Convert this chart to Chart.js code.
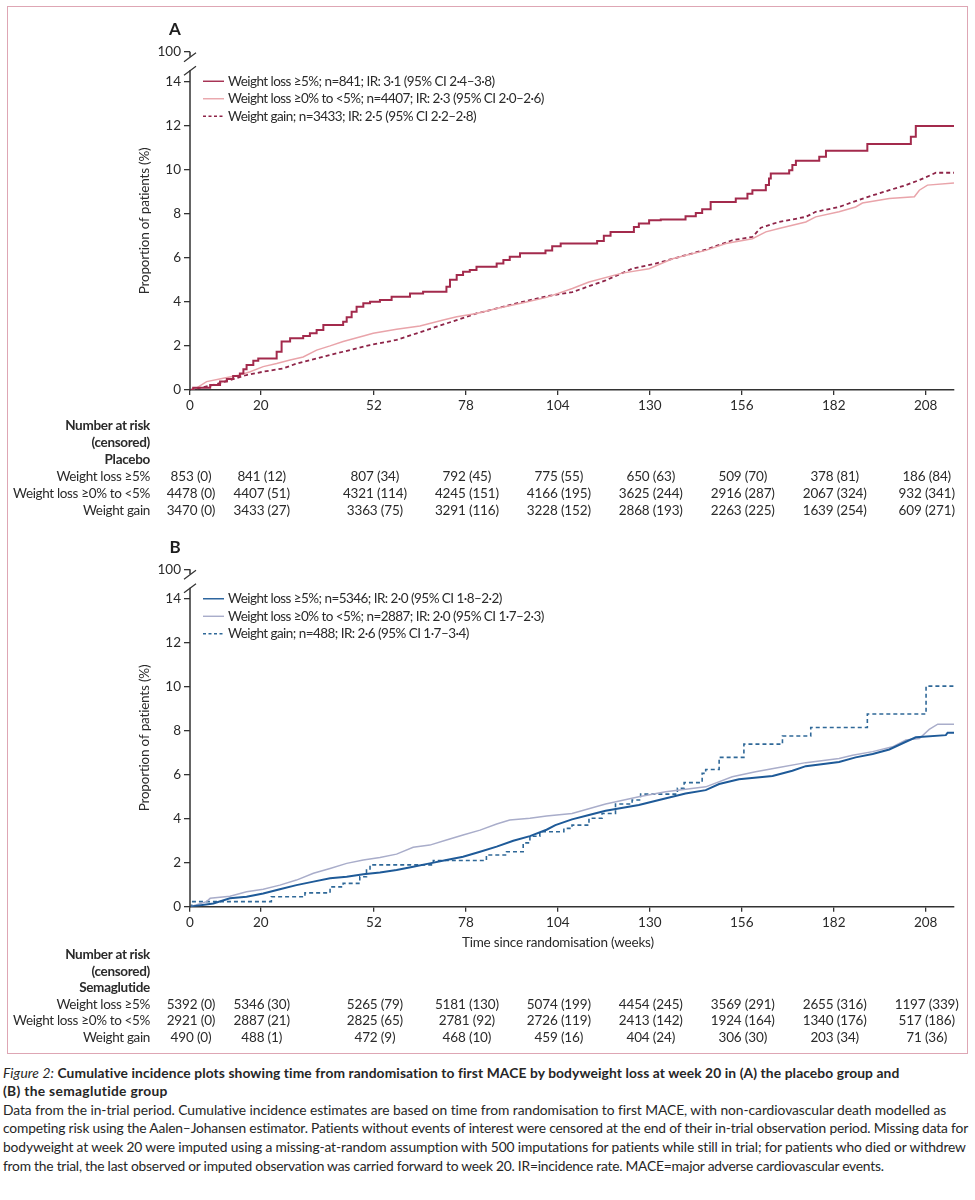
<!DOCTYPE html>
<html><head><meta charset="utf-8">
<script src="https://cdn.jsdelivr.net/npm/chart.js@4.4.1/dist/chart.umd.min.js"></script>
<style>
html,body{margin:0;padding:0;background:#fff;}
#wrap{position:relative;width:975px;height:1200px;overflow:hidden;background:#fff;}
#box{position:absolute;left:7px;top:6px;width:961px;height:1048px;border:1.5px solid #dea6b4;box-sizing:border-box;}
#cA{position:absolute;left:0;top:0;}
#cB{position:absolute;left:0;top:520px;}
#cap{position:absolute;left:3px;top:1063.7px;font-family:Lato,"Open Sans",sans-serif;font-size:13.8px;line-height:18.6px;color:#262626;}
#cap div{white-space:nowrap;}
#cap span{display:inline-block;white-space:nowrap;}
#cap .h{font-weight:bold;}
#cap .h i{font-weight:normal;}
</style></head>
<body>
<div id="wrap">
<div id="box"></div>
<canvas id="cA" width="975" height="520"></canvas>
<canvas id="cB" width="975" height="533"></canvas>
<div id="cap">
<div class="h"><span><i>Figure 2:</i> Cumulative incidence plots showing time from randomisation to first MACE by bodyweight loss at week 20 in (A) the placebo group and</span></div>
<div class="h"><span>(B) the semaglutide group</span></div>
<div><span>Data from the in-trial period. Cumulative incidence estimates are based on time from randomisation to first MACE, with non-cardiovascular death modelled as</span></div>
<div><span>competing risk using the Aalen–Johansen estimator. Patients without events of interest were censored at the end of their in-trial observation period. Missing data for</span></div>
<div><span>bodyweight at week 20 were imputed using a missing-at-random assumption with 500 imputations for patients while still in trial; for patients who died or withdrew</span></div>
<div><span>from the trial, the last observed or imputed observation was carried forward to week 20. IR=incidence rate. MACE=major adverse cardiovascular events.</span></div>
</div>
</div>
<script>
// ---------- axes ----------
const weekTicks = [0, 20, 52, 78, 104, 130, 156, 182, 208];
const weekMax = 216;
const pctTicks = [0, 2, 4, 6, 8, 10, 12, 14];
const pctBreak = 15.34;
const pctBreakLabel = '100';

// ---------- panel A: placebo ----------
const placeboLoss5Weeks = [0,0.9,5.7,8.5,10.4,12.2,14.1,15.1,16.0,17.9,19.3,24.5,25.9,28.3,32.0,33.9,35.8,37.7,43.3,44.3,45.7,47.1,49.0,50.9,53.7,57.0,62.2,65.9,72.5,73.5,75.4,77.2,79.1,81.0,86.7,88.6,90.4,93.3,100.5,102.4,104.8,115.1,117.0,118.9,125.5,126.9,129.8,133.1,140.1,143.0,144.8,147.2,154.3,157.6,159.0,162.8,163.7,164.2,169.4,170.3,171.3,177.9,179.8,191.5,203.8,205.2,216];
const placeboLoss5Pct   = [0,0.1,0.23,0.38,0.5,0.63,0.75,0.94,1.13,1.33,1.43,1.74,2.2,2.35,2.45,2.57,2.72,2.95,3.1,3.3,3.55,3.78,3.93,4.0,4.08,4.23,4.38,4.46,4.68,5.0,5.21,5.36,5.44,5.59,5.74,5.89,6.04,6.2,6.33,6.52,6.64,6.76,7.0,7.17,7.39,7.55,7.7,7.73,7.88,8.03,8.2,8.53,8.68,8.9,9.06,9.29,9.59,9.82,9.97,10.2,10.39,10.58,10.85,11.15,11.48,11.97,11.97];

const placeboLoss0Weeks = [0,1.9,4.7,9.4,14.1,17.0,20.7,24.5,28.3,32.0,35.8,39.6,43.3,49.0,51.8,58.4,65.0,71.6,75.4,81.0,86.7,94.2,100.8,108.1,112.8,122.2,129.8,136.4,145.8,151.5,159.0,162.8,166.5,174.1,176.9,183.5,188.2,190.1,197.7,204.8,206.2,208.5,216];
const placeboLoss0Pct   = [0,0.1,0.38,0.53,0.68,0.83,1.06,1.2,1.36,1.5,1.81,2.0,2.2,2.45,2.57,2.75,2.9,3.17,3.32,3.47,3.7,3.96,4.2,4.6,4.9,5.3,5.5,5.95,6.33,6.64,6.86,7.17,7.32,7.62,7.85,8.08,8.3,8.48,8.68,8.76,9.06,9.29,9.39];

const placeboGainWeeks = [0,6.6,11.3,16.0,20.7,26.4,30.1,35.8,39.6,45.2,50.9,58.4,64.1,69.7,75.4,81.0,86.7,92.3,100.8,108.1,117.5,125.0,131.6,138.2,145.8,153.3,159.0,161.4,166.5,174.1,176.9,183.5,191.1,197.7,202.4,206.2,210.9,216];
const placeboGainPct   = [0,0.23,0.45,0.68,0.83,0.98,1.2,1.43,1.59,1.81,2.04,2.27,2.57,2.87,3.17,3.47,3.7,3.93,4.25,4.44,4.97,5.5,5.73,6.03,6.36,6.79,6.94,7.36,7.62,7.85,8.08,8.3,8.73,9.06,9.29,9.52,9.85,9.85];

const placeboLegend = [
  'Weight loss ≥5%; n=841; IR: 3·1 (95% CI 2·4–3·8)',
  'Weight loss ≥0% to <5%; n=4407; IR: 2·3 (95% CI 2·0–2·6)',
  'Weight gain; n=3433; IR: 2·5 (95% CI 2·2–2·8)'
];

// ---------- panel B: semaglutide ----------
const semaLoss5Weeks = [0,6.6,11.3,16.0,20.7,25.4,30.1,34.9,39.6,44.3,49.0,53.7,58.4,63.1,67.8,72.5,77.2,82.0,86.7,91.4,96.1,100.8,103.3,108.0,112.8,117.5,126.9,132.6,140.1,145.8,149.6,155.2,164.7,170.3,174.1,183.5,188.2,193.0,197.7,202.4,205.2,213.7,214.2,216];
const semaLoss5Pct   = [0,0.15,0.38,0.45,0.6,0.79,0.98,1.14,1.29,1.36,1.48,1.55,1.67,1.82,1.97,2.12,2.27,2.5,2.73,3.0,3.21,3.5,3.71,3.97,4.17,4.36,4.62,4.85,5.15,5.3,5.58,5.79,5.94,6.18,6.39,6.58,6.79,6.94,7.15,7.5,7.7,7.8,7.91,7.91];

const semaLoss0Weeks = [0,4.7,5.7,11.3,16.0,20.7,25.4,30.1,34.9,39.6,44.3,49.0,53.7,58.4,63.1,67.8,72.5,77.2,82.0,86.7,90.4,96.1,100.8,108.0,117.5,126.9,134.5,145.8,153.3,159.9,166.5,174.1,183.5,187.3,193.0,198.6,202.4,206.2,209.0,211.4,216];
const semaLoss0Pct   = [0,0.23,0.38,0.48,0.68,0.79,0.98,1.21,1.52,1.74,1.97,2.12,2.24,2.39,2.7,2.8,3.03,3.26,3.48,3.76,3.94,4.02,4.12,4.24,4.67,5.0,5.23,5.45,5.91,6.14,6.33,6.55,6.74,6.89,7.05,7.27,7.58,7.65,8.06,8.3,8.3];

const semaGainWeeks = [0,0.5,23.0,32.5,39.6,43.3,48.0,49.9,50.9,68.8,83.8,89.5,94.2,96.1,98.9,105.7,108.0,112.8,116.5,120.3,125.0,127.4,137.8,139.7,144.8,145.8,149.6,156.6,167.5,175.5,191.5,208.1,216];
const semaGainPct   = [0,0.23,0.45,0.63,0.9,1.06,1.36,1.67,1.9,2.1,2.35,2.5,2.9,3.2,3.41,3.56,3.71,4.02,4.24,4.67,4.85,5.12,5.38,5.64,6.06,6.24,6.79,7.39,7.76,8.15,8.76,10.03,10.03];

const semaLegend = [
  'Weight loss ≥5%; n=5346; IR: 2·0 (95% CI 1·8–2·2)',
  'Weight loss ≥0% to <5%; n=2887; IR: 2·0 (95% CI 1·7–2·3)',
  'Weight gain; n=488; IR: 2·6 (95% CI 1·7–3·4)'
];

// ---------- number at risk (censored) ----------
const riskRowLabels = ['Weight loss ≥5%', 'Weight loss ≥0% to <5%', 'Weight gain'];
const riskPlaceboLoss5 = ['853 (0)','841 (12)','807 (34)','792 (45)','775 (55)','650 (63)','509 (70)','378 (81)','186 (84)'];
const riskPlaceboLoss0 = ['4478 (0)','4407 (51)','4321 (114)','4245 (151)','4166 (195)','3625 (244)','2916 (287)','2067 (324)','932 (341)'];
const riskPlaceboGain  = ['3470 (0)','3433 (27)','3363 (75)','3291 (116)','3228 (152)','2868 (193)','2263 (225)','1639 (254)','609 (271)'];
const riskSemaLoss5 = ['5392 (0)','5346 (30)','5265 (79)','5181 (130)','5074 (199)','4454 (245)','3569 (291)','2655 (316)','1197 (339)'];
const riskSemaLoss0 = ['2921 (0)','2887 (21)','2825 (65)','2781 (92)','2726 (119)','2413 (142)','1924 (164)','1340 (176)','517 (186)'];
const riskSemaGain  = ['490 (0)','488 (1)','472 (9)','468 (10)','459 (16)','404 (24)','306 (30)','203 (34)','71 (36)'];

// ---------- drawing ----------
const AXIS = '#333333', TXT = '#2a2a2a';
const FONT = 'Lato, "Open Sans", sans-serif';

function series(w, v) { return w.map((x, i) => ({ x: x, y: v[i] })); }

const decor = {
  id: 'decor',
  afterDraw(chart, args, o) {
    const c = chart.ctx, a = chart.chartArea, xs = chart.scales.x, ys = chart.scales.y;
    c.save();
    // y axis with break
    const x0 = a.left;
    const y14 = ys.getPixelForValue(pctTicks[pctTicks.length - 1]);
    const yLo = y14 - 11, yHi = a.top + 5;
    c.strokeStyle = AXIS; c.lineWidth = 1.5;
    c.beginPath();
    c.moveTo(x0, a.bottom + 0.75); c.lineTo(x0, yLo);
    c.moveTo(x0, a.top); c.lineTo(x0, yHi);
    c.stroke();
    c.lineWidth = 1.2;
    c.beginPath();
    c.moveTo(x0 - 6, yLo + 5); c.lineTo(x0 + 6, yLo - 4);
    c.moveTo(x0 - 6, yHi + 5); c.lineTo(x0 + 6, yHi - 4);
    c.stroke();

    // panel letter
    c.fillStyle = '#1e1e1e'; c.font = 'bold 17px ' + FONT;
    c.textAlign = 'center'; c.textBaseline = 'middle';
    c.fillText(o.letter, a.left - 15, a.top - 22);

    // y title
    c.save();
    c.translate(a.left - 45, (a.top + a.bottom) / 2);
    c.rotate(-Math.PI / 2);
    c.font = '13.5px ' + FONT; c.fillStyle = TXT;
    c.letterSpacing = '-0.2px';
    c.fillText('Proportion of patients (%)', 0, 0);
    c.restore();

    // x title
    if (o.xTitle) {
      c.font = '13.5px ' + FONT; c.fillStyle = TXT; c.textAlign = 'center';
      c.letterSpacing = '-0.2px';
      c.fillText(o.xTitle, xs.getPixelForValue((weekTicks[0] + weekTicks[weekTicks.length - 1]) / 2), a.bottom + 36);
    }

    // legend
    c.font = '13.5px ' + FONT; c.fillStyle = TXT; c.textAlign = 'left';
    c.letterSpacing = '-0.55px';
    chart.data.datasets.forEach((d, i) => {
      const y = y14 + i * 17.5;
      c.strokeStyle = d.borderColor; c.lineWidth = 1.4;
      c.setLineDash(d.borderDash ? [3, 2.5] : []);
      c.beginPath(); c.moveTo(a.left + 13, y); c.lineTo(a.left + 34, y); c.stroke();
      c.setLineDash([]);
      c.fillText(d.label, a.left + 38, y);
    });

    // number at risk table
    const lx = a.left - 40;
    c.letterSpacing = '-0.3px';
    c.textAlign = 'right'; c.font = 'bold 13.5px ' + FONT; c.fillStyle = TXT;
    const heads = ['Number at risk', '(censored)', o.group];
    heads.forEach((h, i) => c.fillText(h, lx, a.bottom + o.tableTop + i * o.gap));
    c.font = '13.5px ' + FONT;
    o.rows.forEach((row, r) => {
      const y = a.bottom + o.tableTop + (r + 3) * o.gap;
      c.textAlign = 'right';
      c.letterSpacing = '-0.35px';
      c.fillText(riskRowLabels[r], lx, y);
      c.textAlign = 'center';
      c.letterSpacing = '-0.15px';
      row.forEach((txt, k) => c.fillText(txt, xs.getPixelForValue(weekTicks[k]) + 1, y));
    });
    c.restore();
  }
};

function build(id, datasets, padTop, padBottom, deco) {
  return new Chart(document.getElementById(id), {
    type: 'line',
    data: { datasets: datasets },
    options: {
      responsive: false, animation: false, events: [],
      layout: { padding: { left: 0, right: 21, top: padTop, bottom: padBottom } },
      elements: { point: { radius: 0 } },
      plugins: { legend: { display: false }, tooltip: { enabled: false }, decor: deco },
      scales: {
        x: {
          type: 'linear', min: 0, max: weekMax,
          afterBuildTicks: s => { s.ticks = weekTicks.map(v => ({ value: v })); },
          afterFit: s => { s.height = 30; },
          grid: { display: true, drawOnChartArea: false, drawTicks: true, tickLength: 5, color: AXIS, lineWidth: 1.3 },
          border: { display: true, color: AXIS, width: 1.5 },
          ticks: { padding: 3, autoSkip: false, maxRotation: 0, color: TXT, font: { family: FONT, size: 13.5 } }
        },
        y: {
          type: 'linear', min: 0, max: pctBreak,
          afterBuildTicks: s => { s.ticks = pctTicks.concat([pctBreak]).map(v => ({ value: v })); },
          afterFit: s => { s.width = 190; },
          grid: { display: true, drawOnChartArea: false, drawTicks: true, tickLength: 6, color: AXIS, lineWidth: 1.3 },
          border: { display: false },
          ticks: { padding: 3, autoSkip: false, color: TXT, font: { family: FONT, size: 13.5 },
                   callback: v => (v === pctBreak ? pctBreakLabel : String(v)) }
        }
      }
    },
    plugins: [decor]
  });
}

build('cA', [
  { label: placeboLegend[0], data: series(placeboLoss5Weeks, placeboLoss5Pct), borderColor: '#a32a4c', borderWidth: 2, stepped: true, fill: false },
  { label: placeboLegend[1], data: series(placeboLoss0Weeks, placeboLoss0Pct), borderColor: '#e9a4aa', borderWidth: 1.5, fill: false },
  { label: placeboLegend[2], data: series(placeboGainWeeks, placeboGainPct), borderColor: '#8e2448', borderWidth: 1.8, borderDash: [4, 3], fill: false }
], 51.7, 100, { letter: 'A', group: 'Placebo', rows: [riskPlaceboLoss5, riskPlaceboLoss0, riskPlaceboGain], tableTop: 36, gap: 17 });

build('cB', [
  { label: semaLegend[0], data: series(semaLoss5Weeks, semaLoss5Pct), borderColor: '#1e5a98', borderWidth: 2, fill: false },
  { label: semaLegend[1], data: series(semaLoss0Weeks, semaLoss0Pct), borderColor: '#a9adca', borderWidth: 1.5, fill: false },
  { label: semaLegend[2], data: series(semaGainWeeks, semaGainPct), borderColor: '#2f6898', borderWidth: 1.6, borderDash: [4, 3], stepped: true, fill: false }
], 49.3, 116.3, { letter: 'B', group: 'Semaglutide', rows: [riskSemaLoss5, riskSemaLoss0, riskSemaGain], tableTop: 48, gap: 16.5, xTitle: 'Time since randomisation (weeks)' });

// fit caption lines to the widths of the printed lines
const capWidths = [897, 165, 944, 966, 964, 881];
document.querySelectorAll('#cap span').forEach((el, i) => {
  const w = el.getBoundingClientRect().width;
  const n = el.textContent.length;
  el.style.letterSpacing = ((capWidths[i] - w) / n).toFixed(3) + 'px';
});
</script>
</body></html>
